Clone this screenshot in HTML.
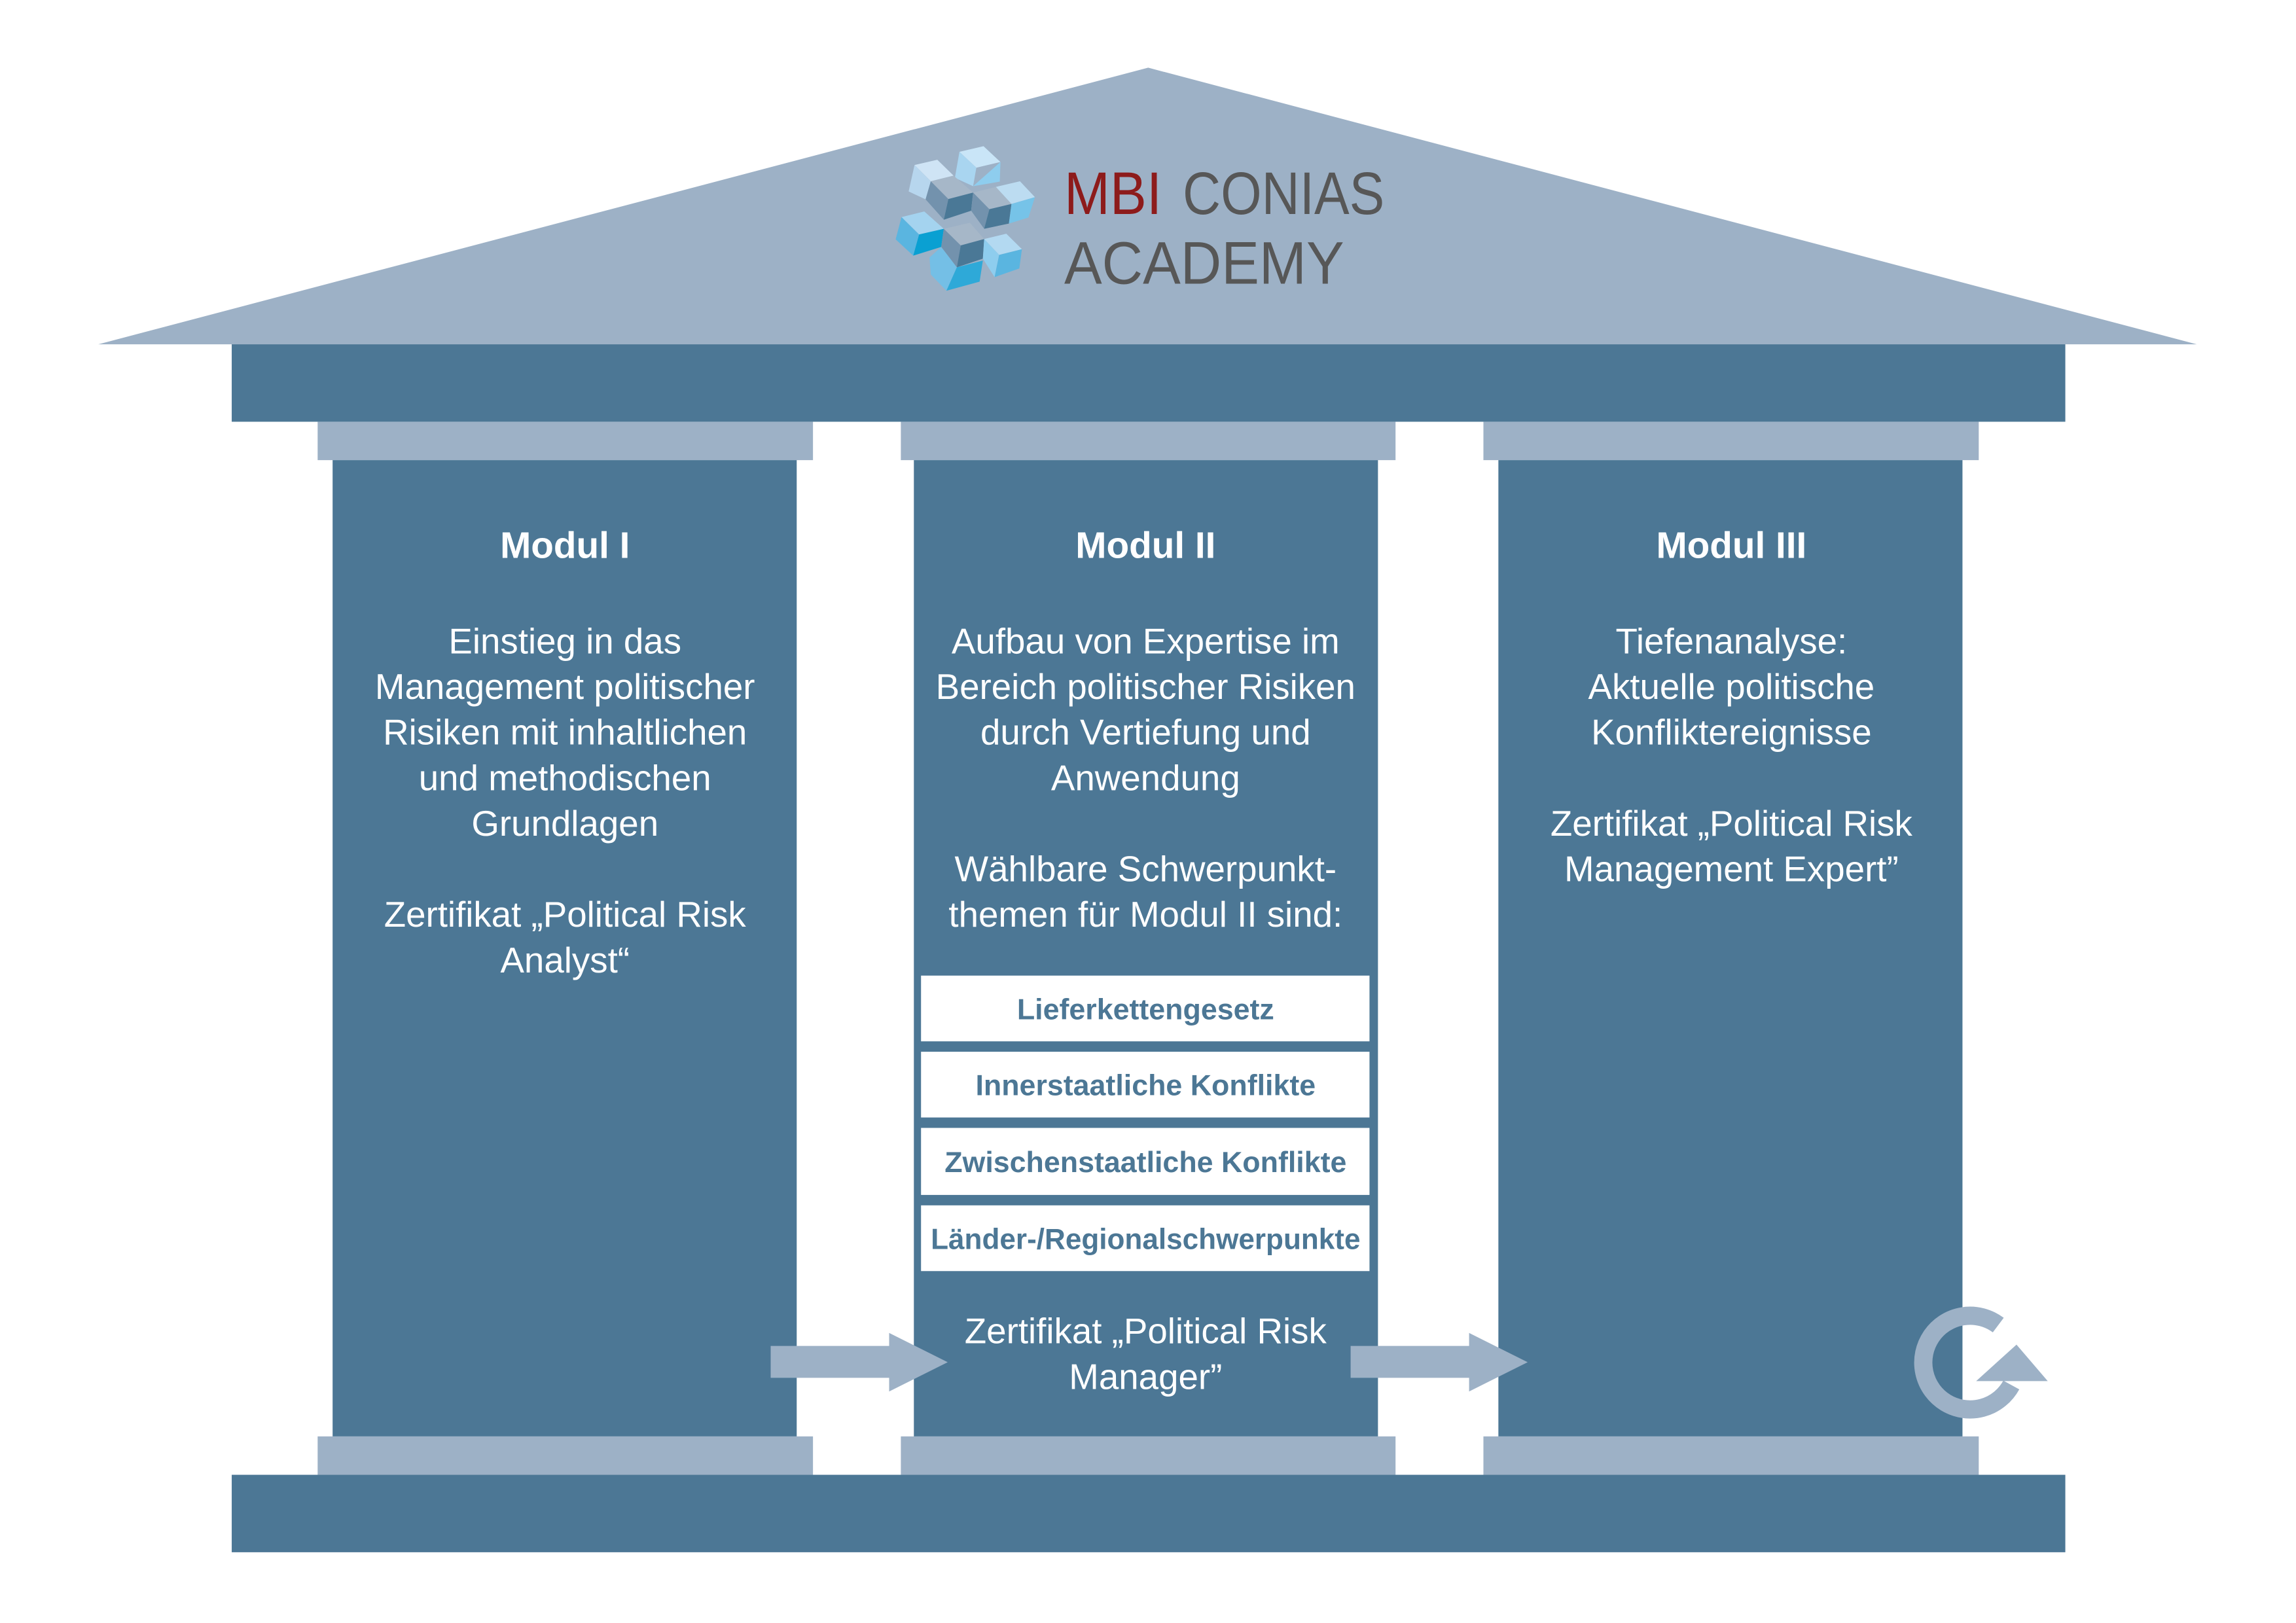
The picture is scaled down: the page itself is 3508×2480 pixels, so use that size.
<!DOCTYPE html>
<html><head><meta charset="utf-8"><style>
html,body{margin:0;padding:0;background:#fff}
svg{display:block}
.h{font-family:"Liberation Sans",sans-serif;font-weight:bold;font-size:57px;fill:#fff;text-anchor:middle}
.t{font-family:"Liberation Sans",sans-serif;font-size:55px;fill:#fff;text-anchor:middle}
.b{font-family:"Liberation Sans",sans-serif;font-weight:bold;font-size:45px;fill:#4c7795;text-anchor:middle}
</style></head><body>
<svg width="3508" height="2480" viewBox="0 0 3508 2480" xmlns="http://www.w3.org/2000/svg">
<rect width="3508" height="2480" fill="#fff"/>
<g transform="scale(0.9945)">
<polygon points="1764,104 151,529 3375,529" fill="#9db1c6"/>
<rect x="356" y="529" width="2817" height="119" fill="#4c7795"/>
<g fill="#9db1c6">
<rect x="488" y="648" width="761" height="59"/><rect x="1384" y="648" width="760" height="59"/><rect x="2279" y="648" width="761" height="59"/>
<rect x="488" y="2207" width="761" height="59"/><rect x="1384" y="2207" width="760" height="59"/><rect x="2279" y="2207" width="761" height="59"/>
</g>
<g fill="#4c7795">
<rect x="511" y="707" width="713" height="1500"/><rect x="1404" y="707" width="713" height="1500"/><rect x="2302" y="707" width="713" height="1500"/>
<rect x="356" y="2266" width="2817" height="119"/>
</g>
<!-- logo cubes -->
<g transform="translate(0,75.5) scale(1,0.58)">
<polygon points="1405,307 1440,293 1465,335 1430,350" fill="#cfe4f5"/>
<polygon points="1396,377 1405,307 1430,350 1422,398" fill="#b7d6ee"/>
<polygon points="1474,272 1511,257 1537,299 1500,314" fill="#c9e5f7"/>
<polygon points="1467,341 1474,272 1500,314 1495,363" fill="#a9d5f0"/>
<polygon points="1495,363 1537,299 1536,351" fill="#8ecdee"/>
<polygon points="1430,350 1465,335 1495,380 1457,397" fill="#a6b7c8"/>
<polygon points="1422,398 1430,350 1457,397 1450,452" fill="#7392ad"/>
<polygon points="1457,397 1495,380 1492,428 1450,452" fill="#4a7896"/>
<polygon points="1495,380 1530,365 1554,410 1520,424" fill="#a6b7c8"/>
<polygon points="1492,428 1495,380 1520,424 1512,476" fill="#7392ad"/>
<polygon points="1520,424 1554,410 1550,462 1512,476" fill="#4a7896"/>
<polygon points="1530,365 1567,350 1590,392 1554,410" fill="#bcdcf1"/>
<polygon points="1554,410 1590,392 1580,446 1550,462" fill="#76c3e8"/>
<polygon points="1385,445 1420,430 1450,476 1412,491" fill="#a4d3ef"/>
<polygon points="1376,504 1385,445 1412,491 1403,547" fill="#5ab5e0"/>
<polygon points="1412,491 1450,476 1446,524 1403,547" fill="#0aa0d2"/>
<polygon points="1450,476 1490,460 1512,503 1476,520" fill="#a6b7c8"/>
<polygon points="1446,524 1450,476 1476,520 1470,578" fill="#7392ad"/>
<polygon points="1476,520 1512,503 1510,555 1470,578" fill="#4a7896"/>
<polygon points="1512,503 1546,489 1570,530 1535,545" fill="#b3d9f1"/>
<polygon points="1510,555 1512,503 1535,545 1528,604" fill="#8ecdee"/>
<polygon points="1535,545 1570,530 1566,581 1528,604" fill="#5ab5e0"/>
<polygon points="1428,552 1446,524 1470,578 1454,640 1430,597" fill="#74bfe6"/>
<polygon points="1470,578 1510,560 1505,616 1454,640" fill="#2ea9d8"/>
</g>
<text x="1635" y="329" font-family="'Liberation Sans',sans-serif" font-size="92" textLength="150" lengthAdjust="spacingAndGlyphs" fill="#8d1b1b">MBI</text>
<text x="1817" y="329" font-family="'Liberation Sans',sans-serif" font-size="92" textLength="310" lengthAdjust="spacingAndGlyphs" fill="#575757">CONIAS</text>
<text x="1635" y="436" font-family="'Liberation Sans',sans-serif" font-size="92" textLength="430" lengthAdjust="spacingAndGlyphs" fill="#575757">ACADEMY</text>

<text class="h" x="868" y="857">Modul I</text>
<text class="h" x="1760" y="857">Modul II</text>
<text class="h" x="2660" y="857">Modul III</text>

<g class="t">
<text x="868" y="1004">Einstieg in das</text>
<text x="868" y="1074">Management politischer</text>
<text x="868" y="1144">Risiken mit inhaltlichen</text>
<text x="868" y="1214">und methodischen</text>
<text x="868" y="1284">Grundlagen</text>
<text x="868" y="1424">Zertifikat „Political Risk</text>
<text x="868" y="1494">Analyst“</text>

<text x="1760" y="1004">Aufbau von Expertise im</text>
<text x="1760" y="1074">Bereich politischer Risiken</text>
<text x="1760" y="1144">durch Vertiefung und</text>
<text x="1760" y="1214">Anwendung</text>
<text x="1760" y="1354">Wählbare Schwerpunkt-</text>
<text x="1760" y="1424">themen für Modul II sind:</text>
<text x="1760" y="2064">Zertifikat „Political Risk</text>
<text x="1760" y="2134">Manager”</text>

<text x="2660" y="1004">Tiefenanalyse:</text>
<text x="2660" y="1074">Aktuelle politische</text>
<text x="2660" y="1144">Konfliktereignisse</text>
<text x="2660" y="1284">Zertifikat „Political Risk</text>
<text x="2660" y="1354">Management Expert”</text>
</g>

<g fill="#fff">
<rect x="1415" y="1499" width="689" height="101"/><rect x="1415" y="1616" width="689" height="101"/>
<rect x="1415" y="1733" width="689" height="103"/><rect x="1415" y="1852" width="689" height="101"/>
</g>
<text class="b" x="1760" y="1566">Lieferkettengesetz</text>
<text class="b" x="1760" y="1683">Innerstaatliche Konflikte</text>
<text class="b" x="1760" y="1801">Zwischenstaatliche Konflikte</text>
<text class="b" x="1760" y="1919" textLength="660" lengthAdjust="spacingAndGlyphs">Länder-/Regionalschwerpunkte</text>

<g fill="#9db1c6">
<rect x="1184" y="2068" width="185" height="49"/><polygon points="1366,2048 1456,2093 1366,2138"/>
<rect x="2075" y="2068" width="185" height="49"/><polygon points="2257,2048 2347,2093 2257,2138"/>
<polygon points="3036,2122 3146,2122 3098,2066"/>
</g>
<path d="M 3070,2036 A 72 72 0 1 0 3090,2128" fill="none" stroke="#9db1c6" stroke-width="28"/>
</g>
</svg>
</body></html>
